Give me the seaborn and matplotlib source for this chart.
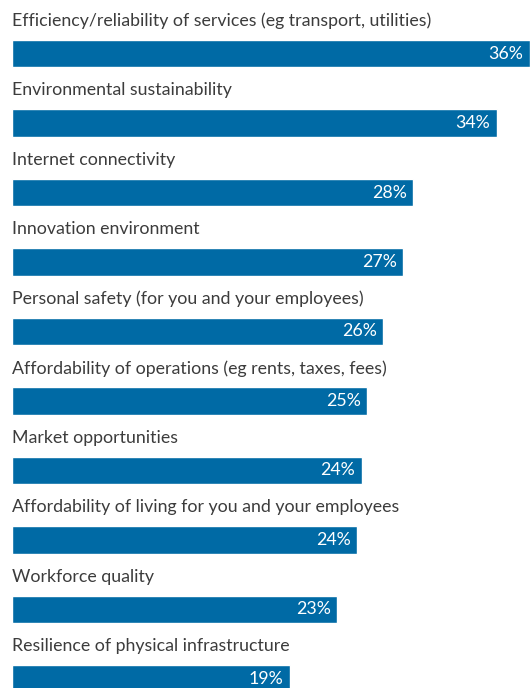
import pandas as pd
import matplotlib.pyplot as plt
import seaborn as sns

sns.set_style('white')
plt.rcParams['font.family'] = ['Lato', 'DejaVu Sans']

categories = [
    'Efficiency/reliability of services (eg transport, utilities)',
    'Environmental sustainability',
    'Internet connectivity',
    'Innovation environment',
    'Personal safety (for you and your employees)',
    'Affordability of operations (eg rents, taxes, fees)',
    'Market opportunities',
    'Affordability of living for you and your employees',
    'Workforce quality',
    'Resilience of physical infrastructure',
]
values = [36.0, 33.7, 27.9, 27.2, 25.8, 24.7, 24.3, 24.0, 22.6, 19.3]
value_labels = ['36%', '34%', '28%', '27%', '26%', '25%', '24%', '24%', '23%', '19%']

df = pd.DataFrame({'category': categories, 'value': values})

fig = plt.figure(figsize=(5.3, 6.88), dpi=100)
ax = fig.add_axes([0, 0, 1, 1])

sns.barplot(data=df, x='value', y='category', orient='h', color='#006aa5',
            width=0.39, saturation=1, ax=ax)

ax.set_xlim(-0.834, 36.0)
ax.set_ylim(9.13, -0.77)
ax.axis('off')

for i, (cat, v, lab) in enumerate(zip(categories, values, value_labels)):
    # category label sits above its bar, flush with the bar start
    ax.text(0, i - 0.47, cat, ha='left', va='center',
            fontsize=12.8, color='#3c3c3c')
    ax.text(v - 0.45, i, lab, ha='right', va='center',
            fontsize=12.8, color='white')

plt.savefig('out.png', dpi=100)
plt.close()
